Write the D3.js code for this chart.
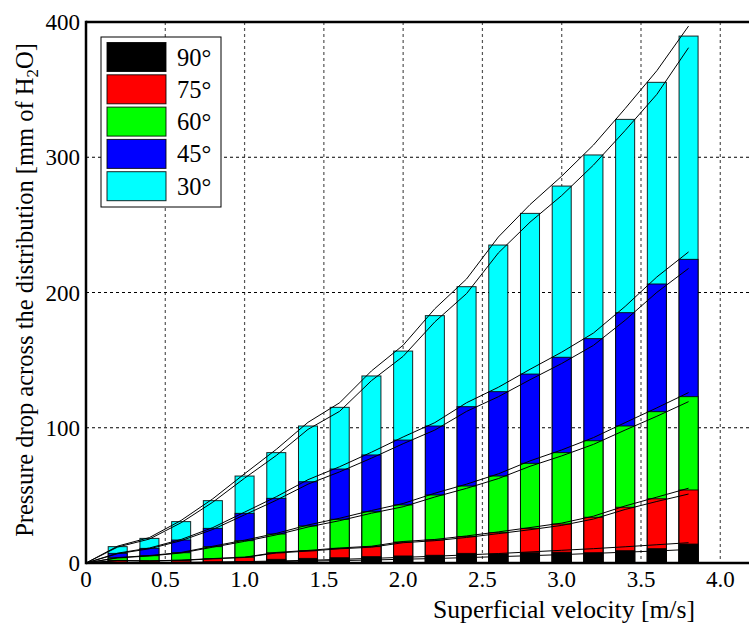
<!DOCTYPE html>
<html><head><meta charset="utf-8">
<script src="https://cdn.jsdelivr.net/npm/d3@7"></script>
<style>html,body{margin:0;padding:0;background:#fff;}svg{display:block;}</style>
</head><body>
<svg id="chart" width="749" height="624"></svg>
<script>
// ---- data ----
const velocity = [0.2,0.4,0.6,0.8,1.0,1.2,1.4,1.6,1.8,2.0,2.2,2.4,2.6,2.8,3.0,3.2,3.4,3.6,3.8];
const angles = ["90°","75°","60°","45°","30°"];
const colors = ["#000000","#ff0000","#00ff00","#0000ff","#00ffff"];
const p90 = [0.5,0.5,0.6,0.8,1.0,2.7,3.4,3.9,4.7,5.2,5.7,7.1,6.7,7.6,7.9,7.6,9.1,10.6,14.0];
const p75 = [1.9,1.5,2.0,3.2,4.2,7.6,9.1,10.8,12.1,15.5,17.0,19.5,22.4,25.6,28.8,33.8,41.2,47.5,54.0];
const p60 = [3.9,5.4,7.6,12.1,16.5,21.4,27.4,32.3,37.9,42.9,50.3,56.9,64.3,73.7,81.6,90.4,101.3,111.9,123.0];
const p45 = [7.1,10.8,17.0,25.6,36.7,47.8,60.1,69.5,79.9,90.9,101.3,115.6,126.7,139.7,152.1,165.9,185.1,206.3,224.5];
const p30 = [12.1,18.2,30.6,46.1,64.3,81.6,101.3,115.1,138.3,156.7,182.9,204.3,235.1,258.5,278.7,301.7,328.0,355.4,389.6];
// upper / lower curves drawn over each series
const hi90 = [0.1,0.2,0.4,0.7,1.0,1.5,2.0,2.7,3.4,4.2,5.0,6.0,7.0,8.2,9.4,10.6,12.0,13.5,15.0];
const lo90 = [0.0,0.1,0.3,0.4,0.7,1.0,1.4,1.8,2.2,2.8,3.3,4.0,4.7,5.4,6.2,7.1,8.0,8.9,10.0];
const hi75 = [1.9,1.6,2.1,3.3,4.3,7.8,9.3,11.1,12.4,15.9,17.4,20.0,23.0,26.2,29.5,34.6,42.2,48.7,55.3];
const lo75 = [1.7,1.4,1.9,3.1,4.1,7.4,8.8,10.5,11.7,15.0,16.5,18.9,21.7,24.6,27.8,32.5,39.6,45.5,51.0];
const hi60 = [4.0,5.5,7.8,12.4,16.9,21.9,28.1,33.1,38.8,44.0,51.6,58.3,65.9,75.5,83.6,92.7,103.8,114.7,126.0];
const lo60 = [3.8,5.2,7.4,11.7,16.0,20.8,26.6,31.3,36.8,41.6,48.8,55.2,62.4,71.5,79.2,87.7,98.3,108.5,119.3];
const hi45 = [7.3,11.1,17.4,26.2,37.6,49.0,61.6,71.2,81.9,93.2,103.8,118.5,129.9,143.2,155.9,170.0,189.7,211.5,230.0];
const lo45 = [6.9,10.5,16.5,24.8,35.6,46.4,58.3,67.4,77.5,88.2,98.3,112.1,122.9,135.5,147.5,160.9,179.5,200.1,217.8];
const hi30 = [12.5,18.8,31.5,47.5,66.0,84.0,104.0,118.5,142.0,161.0,188.0,210.0,241.0,265.0,286.0,309.0,336.0,364.0,397.0];
const lo30 = [11.8,17.7,29.8,45.0,62.7,79.5,98.8,112.2,134.8,152.8,178.3,199.2,229.2,252.0,271.7,294.2,319.8,346.5,381.0];
const xTicks = [0,0.5,1.0,1.5,2.0,2.5,3.0,3.5,4.0];
const yTicks = [0,100,200,300,400];

const series = [
  {name:angles[0], color:colors[0], vals:p90, hi:hi90, lo:lo90},
  {name:angles[1], color:colors[1], vals:p75, hi:hi75, lo:lo75},
  {name:angles[2], color:colors[2], vals:p60, hi:hi60, lo:lo60},
  {name:angles[3], color:colors[3], vals:p45, hi:hi45, lo:lo45},
  {name:angles[4], color:colors[4], vals:p30, hi:hi30, lo:lo30}
];

// ---- layout ----
const L = 86, T = 22, B = 563, R = 752;
const barW = 0.12;
const x = d3.scaleLinear().domain([0,4.2]).range([L,R]);
const y = d3.scaleLinear().domain([0,400]).range([B,T]);
const svg = d3.select("#chart");
const font = "'Liberation Serif', 'DejaVu Serif', serif";

// grid
svg.append("g").selectAll("line").data(xTicks.filter(t=>t>0)).join("line")
  .attr("x1",d=>x(d)).attr("x2",d=>x(d)).attr("y1",T).attr("y2",B)
  .attr("stroke","#555").attr("stroke-width",1.2).attr("stroke-dasharray","3,3");
svg.append("g").selectAll("line").data(yTicks.filter(t=>t>0&&t<400)).join("line")
  .attr("x1",L).attr("x2",749).attr("y1",d=>y(d)).attr("y2",d=>y(d))
  .attr("stroke","#000").attr("stroke-width",1).attr("stroke-dasharray","3,3");

// bars: largest drawn first so smaller overlay
const barG = svg.append("g");
series.slice().reverse().forEach(s=>{
  barG.append("g").selectAll("rect").data(velocity.map((v,i)=>({v, p:s.vals[i]}))).join("rect")
    .attr("x",d=>x(d.v-barW/2)).attr("width",d=>x(d.v+barW/2)-x(d.v-barW/2))
    .attr("y",d=>y(d.p)).attr("height",d=>y(0)-y(d.p))
    .attr("fill",s.color).attr("stroke","#000").attr("stroke-width",1).attr("stroke-opacity",0.85);
});

// curves
const line = d3.line().x(d=>x(d[0])).y(d=>y(d[1]));
series.forEach(s=>{
  [s.hi, s.lo].forEach(arr=>{
    const pts = [[0,0]].concat(velocity.map((v,i)=>[v,arr[i]]));
    svg.append("path").attr("d",line(pts)).attr("fill","none")
      .attr("stroke","#000").attr("stroke-width",1);
  });
});

// spines
svg.append("line").attr("x1",L).attr("x2",749).attr("y1",T).attr("y2",T).attr("stroke","#000").attr("stroke-width",2.5);
svg.append("line").attr("x1",L).attr("x2",749).attr("y1",B).attr("y2",B).attr("stroke","#000").attr("stroke-width",2.5);
svg.append("line").attr("x1",L).attr("x2",L).attr("y1",T-1.2).attr("y2",B+1.2).attr("stroke","#000").attr("stroke-width",2.5);

// tick labels
svg.append("g").selectAll("text").data(xTicks).join("text")
  .attr("x",d=>x(d)).attr("y",587).attr("text-anchor","middle")
  .attr("font-family",font).attr("font-size",23)
  .text(d=>d===0?"0":d.toFixed(1));
svg.append("g").selectAll("text").data(yTicks).join("text")
  .attr("x",80).attr("y",d=>y(d)+8).attr("text-anchor","end")
  .attr("font-family",font).attr("font-size",23)
  .text(d=>d);

// axis labels
svg.append("text").attr("x",564).attr("y",618).attr("text-anchor","middle")
  .attr("font-family",font).attr("font-size",25.5)
  .attr("textLength",262).attr("lengthAdjust","spacingAndGlyphs")
  .text("Superficial velocity [m/s]");
const yl = svg.append("text").attr("transform","translate(33,290) rotate(-90)")
  .attr("text-anchor","middle").attr("font-family",font).attr("font-size",24.5);
yl.append("tspan").text("Pressure drop across the distribution [mm of H");
yl.append("tspan").attr("font-size",17).attr("dy",5).text("2");
yl.append("tspan").attr("dy",-5).text("O]");

// legend
const lg = svg.append("g");
lg.append("rect").attr("x",101).attr("y",37).attr("width",120).attr("height",170)
  .attr("fill","#fff").attr("stroke","#000").attr("stroke-width",1);
series.forEach((s,i)=>{
  const ty = 42.5 + i*32.3;
  lg.append("rect").attr("x",107).attr("y",ty).attr("width",59).attr("height",29)
    .attr("fill",s.color).attr("stroke","#000").attr("stroke-width",1).attr("stroke-opacity",0.85);
  lg.append("text").attr("x",177).attr("y",ty+23).attr("font-family",font).attr("font-size",24.5)
    .text(s.name);
});
</script>
</body></html>
